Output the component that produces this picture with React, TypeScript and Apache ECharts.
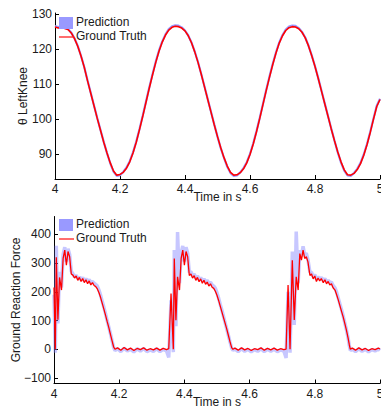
import React, { useEffect, useRef } from "react";
import * as echarts from "echarts";

// ---------- Top panel: knee angle ----------
const angleTime = [
  4.0, 4.01, 4.02, 4.03, 4.04, 4.05, 4.06, 4.07, 4.08, 4.09,
  4.1, 4.11, 4.12, 4.13, 4.14, 4.15, 4.16, 4.17, 4.18, 4.19,
  4.2, 4.21, 4.22, 4.23, 4.24, 4.25, 4.26, 4.27, 4.28, 4.29,
  4.3, 4.31, 4.32, 4.33, 4.34, 4.35, 4.36, 4.37, 4.38, 4.39,
  4.4, 4.41, 4.42, 4.43, 4.44, 4.45, 4.46, 4.47, 4.48, 4.49,
  4.5, 4.51, 4.52, 4.53, 4.54, 4.55, 4.56, 4.57, 4.58, 4.59,
  4.6, 4.61, 4.62, 4.63, 4.64, 4.65, 4.66, 4.67, 4.68, 4.69,
  4.7, 4.71, 4.72, 4.73, 4.74, 4.75, 4.76, 4.77, 4.78, 4.79,
  4.8, 4.81, 4.82, 4.83, 4.84, 4.85, 4.86, 4.87, 4.88, 4.89,
  4.9, 4.91, 4.92, 4.93, 4.94, 4.95, 4.96, 4.97, 4.98, 4.99,
  5.0,
];
const angleTruth = [
  126.3, 126.0, 126.2, 125.9, 125.6, 124.6, 123.0, 120.8, 118.0, 114.8,
  111.0, 107.4, 103.8, 100.2, 96.8, 93.4, 90.3, 87.5, 85.2, 84.0,
  84.2, 84.8, 86.0, 87.8, 90.3, 93.4, 97.0, 100.8, 104.8, 108.8,
  112.6, 116.2, 119.4, 122.0, 124.0, 125.4, 126.2, 126.5, 126.4, 126.0,
  125.2, 123.8, 121.8, 119.2, 116.2, 112.8, 109.2, 105.6, 102.0, 98.4,
  95.0, 91.8, 89.0, 86.6, 84.8, 84.0, 84.1, 84.7, 85.8, 87.5,
  89.9, 92.9, 96.4, 100.2, 104.2, 108.2, 112.0, 115.6, 118.9, 121.7,
  123.8, 125.3, 126.1, 126.4, 126.3, 125.8, 124.8, 123.2, 120.9, 118.1,
  115.0, 111.6, 108.0, 104.4, 100.8, 97.2, 93.8, 90.6, 87.8, 85.5,
  84.1, 84.0, 84.5, 85.6, 87.3, 89.7, 92.7, 96.2, 100.0, 103.6,
  105.6,
];
const anglePred = [
  126.6, 126.3, 126.4, 126.1, 125.7, 124.7, 123.1, 120.9, 118.1, 114.9,
  111.1, 107.5, 103.9, 100.3, 96.9, 93.5, 90.3, 87.4, 85.0, 83.8,
  84.0, 84.9, 86.2, 88.0, 90.5, 93.6, 97.2, 101.0, 105.0, 109.0,
  112.8, 116.4, 119.6, 122.2, 124.2, 125.7, 126.5, 126.8, 126.7, 126.2,
  125.3, 123.9, 121.9, 119.3, 116.3, 112.9, 109.3, 105.7, 102.1, 98.5,
  95.0, 91.7, 88.9, 86.4, 84.6, 83.8, 83.9, 84.8, 86.0, 87.7,
  90.1, 93.1, 96.6, 100.4, 104.4, 108.4, 112.2, 115.8, 119.1, 121.9,
  124.0, 125.6, 126.4, 126.7, 126.6, 126.0, 124.9, 123.3, 121.0, 118.2,
  115.1, 111.7, 108.1, 104.5, 100.9, 97.3, 93.8, 90.5, 87.6, 85.3,
  83.9, 83.8, 84.6, 85.8, 87.5, 89.9, 92.9, 96.4, 100.2, 103.8,
  105.8,
];
const angleTicks = [90, 100, 110, 120, 130];

// ---------- Bottom panel: ground reaction force ----------
const grfTime = [
  // stance 1
  4.0, 4.004, 4.007, 4.012, 4.017, 4.023, 4.028, 4.033, 4.038, 4.043, 4.048,
  4.053, 4.058, 4.063, 4.068, 4.073, 4.078, 4.083, 4.088, 4.093, 4.098,
  4.103, 4.108, 4.113, 4.118, 4.123, 4.128, 4.133, 4.138, 4.143, 4.148,
  4.153, 4.158, 4.163, 4.168, 4.173, 4.178, 4.183, 4.187,
  // swing 1
  4.195, 4.205, 4.215, 4.225, 4.235, 4.245, 4.255, 4.265, 4.275, 4.285,
  4.295, 4.305, 4.315, 4.325, 4.335, 4.345, 4.352,
  // stance 2
  4.359, 4.366, 4.369, 4.374, 4.379, 4.385, 4.39, 4.395, 4.4, 4.405, 4.41,
  4.415, 4.42, 4.425, 4.43, 4.435, 4.44, 4.445, 4.45, 4.455, 4.46,
  4.465, 4.47, 4.475, 4.48, 4.485, 4.49, 4.495, 4.5, 4.505, 4.51,
  4.515, 4.52, 4.525, 4.53, 4.535, 4.54, 4.545, 4.549,
  // swing 2
  4.555, 4.565, 4.575, 4.585, 4.595, 4.605, 4.615, 4.625, 4.635, 4.645,
  4.655, 4.665, 4.675, 4.685, 4.695, 4.705, 4.712,
  // stance 3
  4.718, 4.724, 4.731, 4.737, 4.743, 4.749, 4.754, 4.759, 4.764, 4.769, 4.774,
  4.779, 4.785, 4.79, 4.795, 4.8, 4.805, 4.81, 4.815, 4.82, 4.826,
  4.831, 4.836, 4.841, 4.846, 4.851, 4.856, 4.862, 4.867, 4.872, 4.877,
  4.882, 4.887, 4.892, 4.897, 4.902, 4.906, 4.909,
  // swing 3
  4.915, 4.925, 4.935, 4.945, 4.955, 4.965, 4.975, 4.985, 4.995, 5.0,
];
const grfTruth = [
  215, 0, 320, 103, 250, 206, 316, 345, 293, 340, 322,
  262, 258, 248, 255, 240, 250, 236, 246, 232, 242,
  228, 238, 224, 232, 222, 218, 210, 197, 180, 160,
  140, 119, 97, 76, 53, 30, 8, 0,
  5, -3, 6, -2, 4, -4, 3, -1, 5, -3,
  2, -2, 4, -3, 3, -1, 2,
  194, 0, 316, 101, 252, 206, 316, 345, 293, 340, 322,
  257, 262, 248, 256, 240, 250, 235, 245, 230, 240,
  226, 234, 220, 228, 216, 212, 202, 188, 170, 150,
  130, 110, 90, 70, 48, 26, 6, 0,
  4, -3, 5, -2, 3, -4, 2, -1, 5, -3,
  3, -2, 4, -3, 2, -1, 1,
  224, 0, 310, 102, 252, 206, 333, 310, 345, 316, 322,
  304, 257, 262, 245, 255, 236, 248, 238, 246, 232,
  242, 228, 236, 224, 228, 214, 206, 190, 172, 152,
  132, 113, 90, 67, 40, 15, 0,
  4, -3, 5, -2, 3, -4, 2, -1, 4, 1,
];
const grfPred = [
  190, -12, 360, 90, 270, 215, 330, 355, 305, 350, 330,
  272, 262, 252, 258, 246, 252, 242, 250, 238, 246,
  236, 242, 232, 236, 230, 226, 220, 206, 188, 166,
  146, 124, 100, 78, 55, 30, 6, -4,
  2, -8, 4, -6, 0, -9, 2, -6, 3, -8,
  -2, -7, 2, -8, 0, -6, -28,
  170, -10, 345, 80, 408, 230, 335, 360, 305, 355, 335,
  268, 270, 256, 262, 248, 256, 242, 250, 238, 245,
  234, 240, 228, 234, 224, 220, 212, 196, 178, 156,
  136, 114, 92, 70, 48, 25, 4, -4,
  1, -8, 2, -7, 0, -9, -1, -7, 2, -8,
  0, -7, 1, -8, -2, -6, -30,
  200, -12, 340, 85, 410, 230, 345, 322, 358, 328, 334,
  312, 268, 268, 252, 260, 244, 252, 244, 250, 240,
  246, 236, 240, 232, 234, 222, 214, 198, 178, 158,
  138, 116, 92, 68, 40, 12, -4,
  0, -8, 2, -7, 0, -9, -1, -6, 1, -4,
];
const grfTicks = [-100, 0, 100, 200, 300, 400];
const timeTicks = [4, 4.2, 4.4, 4.6, 4.8, 5];

const FONT = "'Liberation Sans', Arial, Helvetica, sans-serif";
const TXT = "#1a1a1a";

function xAxisCfg(gridIndex: number) {
  return {
    type: "value",
    gridIndex,
    min: 4,
    max: 5,
    name: "Time in s",
    nameLocation: "middle",
    nameGap: 12,
    nameMoveOverlap: false,
    nameTextStyle: { color: TXT, fontFamily: FONT, fontSize: 12 },
    axisLine: { show: true, onZero: false, lineStyle: { color: "#000", width: 1 } },
    axisTick: { show: true, inside: true, length: 4, customValues: timeTicks, lineStyle: { color: "#000" } },
    axisLabel: {
      customValues: timeTicks,
      color: TXT,
      fontFamily: FONT,
      fontSize: 12,
      margin: 4,
      hideOverlap: false,
      formatter: (v: number) => String(Math.round(v * 10) / 10),
    },
    splitLine: { show: false },
  };
}

function yAxisCfg(gridIndex: number, min: number, max: number, name: string, gap: number, ticks: number[]) {
  return {
    type: "value",
    gridIndex,
    min,
    max,
    name,
    nameLocation: "middle",
    nameGap: gap,
    nameMoveOverlap: false,
    nameTextStyle: { color: TXT, fontFamily: FONT, fontSize: 12 },
    axisLine: { show: true, onZero: false, lineStyle: { color: "#000", width: 1 } },
    axisTick: { show: true, inside: true, length: 4, customValues: ticks, lineStyle: { color: "#000" } },
    axisLabel: {
      customValues: ticks,
      color: TXT,
      fontFamily: FONT,
      fontSize: 12,
      margin: 3,
      formatter: (v: number) => (v < 0 ? "\u2212" + Math.abs(v) : String(v)),
    },
    splitLine: { show: false },
  };
}

function legendGraphic(top: number) {
  return [
    { type: "rect", left: 59, top: top, shape: { width: 14, height: 12 }, style: { fill: "#9999ff" }, z: 100 },
    { type: "text", left: 76, top: top - 1, style: { text: "Prediction", fill: TXT, font: `12px ${FONT}` }, z: 100 },
    { type: "line", shape: { x1: 59, y1: top + 20, x2: 74, y2: top + 20 }, style: { stroke: "#ff2020", lineWidth: 1.3 }, z: 100 },
    { type: "text", left: 76, top: top + 13, style: { text: "Ground Truth", fill: TXT, font: `12px ${FONT}` }, z: 100 },
  ];
}

export default function App() {
  const ref = useRef<HTMLDivElement>(null);
  useEffect(() => {
    document.body.style.margin = "0";
    if (!ref.current) return;
    const chart = echarts.init(ref.current, null, { renderer: "svg" });
    chart.setOption({
      animation: false,
      backgroundColor: "#fff",
      grid: [
        { left: 55, right: 1, top: 13, height: 166, containLabel: false, outerBoundsMode: "none" },
        { left: 54, right: 1, top: 216.5, height: 167, containLabel: false, outerBoundsMode: "none" },
      ],
      xAxis: [xAxisCfg(0), xAxisCfg(1)],
      yAxis: [
        yAxisCfg(0, 82.9, 130.3, "\u03b8 LeftKnee", 26, angleTicks),
        yAxisCfg(1, -119, 462, "Ground Reaction Force", 32, grfTicks),
      ],
      series: [
        {
          name: "Prediction",
          type: "line",
          xAxisIndex: 0,
          yAxisIndex: 0,
          showSymbol: false,
          data: angleTime.map((t, i) => [t, anglePred[i]]),
          lineStyle: { color: "#9999ff", width: 2.2 },
          z: 2,
        },
        {
          name: "Ground Truth",
          type: "line",
          xAxisIndex: 0,
          yAxisIndex: 0,
          showSymbol: false,
          data: angleTime.map((t, i) => [t, angleTruth[i]]),
          lineStyle: { color: "#ff0000", width: 1.6 },
          z: 3,
        },
        {
          name: "Prediction",
          type: "line",
          xAxisIndex: 1,
          yAxisIndex: 1,
          showSymbol: false,
          data: grfTime.map((t, i) => [t, grfPred[i]]),
          lineStyle: { color: "rgba(130,130,255,0.45)", width: 3.5 },
          z: 2,
        },
        {
          name: "Ground Truth",
          type: "line",
          xAxisIndex: 1,
          yAxisIndex: 1,
          showSymbol: false,
          data: grfTime.map((t, i) => [t, grfTruth[i]]),
          lineStyle: { color: "#ff0000", width: 1.3 },
          z: 3,
        },
      ],
      graphic: [...legendGraphic(17), ...legendGraphic(219)],
    });
    return () => chart.dispose();
  }, []);
  return <div ref={ref} style={{ width: 381, height: 406 }} />;
}
